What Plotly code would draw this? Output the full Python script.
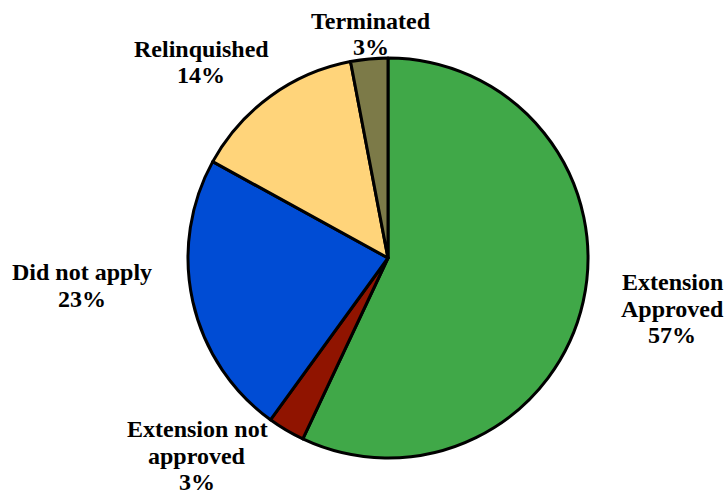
import plotly.graph_objects as go

labels = ["Extension<br>Approved", "Extension not<br>approved", "Did not apply", "Relinquished", "Terminated"]
values = [57, 3, 23, 14, 3]
colors = ["#40A848", "#901400", "#004CD4", "#FFD47A", "#7C7A48"]

W, H = 724, 494
# label block: centre x and first-line baseline, in pixels
label_pos = [(672, 290), (197, 437), (82, 280), (201, 57), (371, 29)]
LINE = 26.5
FS = 24

fig = go.Figure(go.Pie(
    labels=labels, values=values, sort=False, direction="clockwise", rotation=0,
    marker=dict(colors=colors, line=dict(color="black", width=3)),
    textinfo="none", hoverinfo="label+percent", showlegend=False,
    domain=dict(x=[188 / W, 588 / W], y=[1 - 458 / H, 1 - 58 / H]),
))

total = sum(values)
for lab, v, (px, base) in zip(labels, values, label_pos):
    lines = lab.split("<br>") + [f"{round(100 * v / total)}%"]
    for i, ln in enumerate(lines):
        cy = base + i * LINE - 8
        fig.add_annotation(
            x=px / W, y=1 - cy / H, xref="paper", yref="paper",
            text=f"<b>{ln}</b>", showarrow=False,
            xanchor="center", yanchor="middle", align="center",
            font=dict(family="Liberation Serif", size=FS, color="black"),
        )

fig.update_layout(width=W, height=H, margin=dict(l=0, r=0, t=0, b=0),
                  paper_bgcolor="white", plot_bgcolor="white")
fig.write_html("out.html", config={"displayModeBar": False},
               post_script="document.body.style.margin='0';")
